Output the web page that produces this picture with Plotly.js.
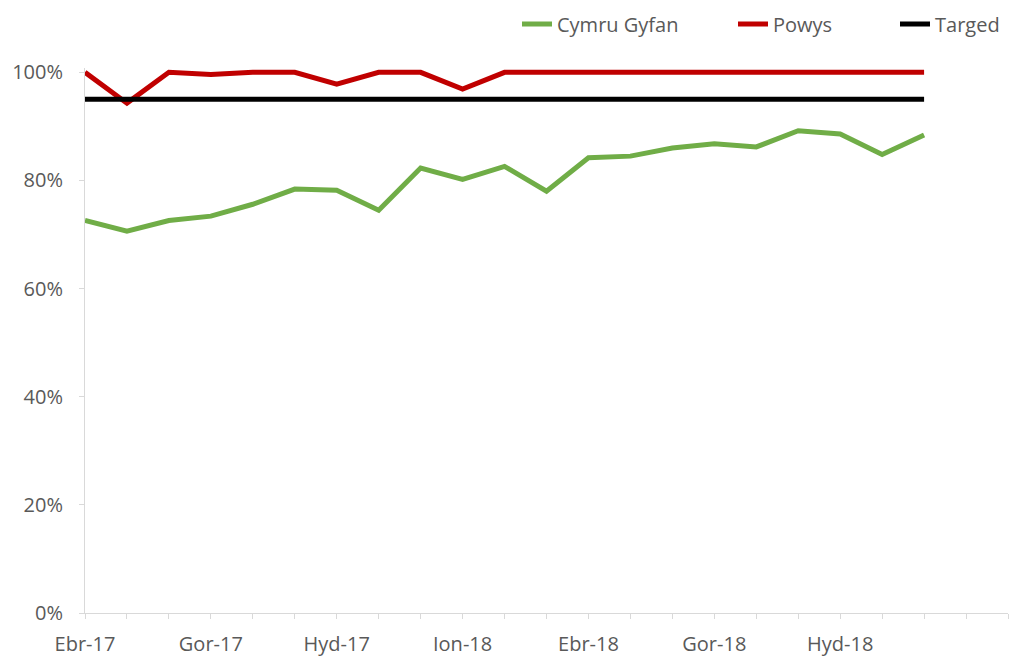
<!DOCTYPE html>
<html>
<head>
<meta charset="utf-8">
<script src="https://cdn.plot.ly/plotly-3.0.1.min.js"></script>
<style>html,body{margin:0;padding:0;background:#fff}#chart{width:1009px;height:657px}</style>
</head>
<body>
<div id="chart"></div>
<script>
// Monthly categories (Welsh month abbreviations), Apr 2017 – Dec 2018
const months = ['Ebr-17','Mai-17','Meh-17','Gor-17','Aws-17','Med-17','Hyd-17','Tach-17','Rhag-17',
  'Ion-18','Chwe-18','Maw-18','Ebr-18','Mai-18','Meh-18','Gor-18','Aws-18','Med-18','Hyd-18','Tach-18','Rhag-18'];
// Axis extends two further (empty) months
const axisMonths = 23;
const tickLabels = ['Ebr-17','Gor-17','Hyd-17','Ion-18','Ebr-18','Gor-18','Hyd-18'];
const tickIndex = [0, 3, 6, 9, 12, 15, 18];

const cymruGyfan = [0.726,0.706,0.726,0.734,0.756,0.784,0.782,0.745,0.823,0.802,0.826,0.780,
  0.842,0.845,0.860,0.868,0.862,0.892,0.886,0.848,0.884];
const powys = [1.00,0.943,1.00,0.996,1.00,1.00,0.978,1.00,1.00,0.969,1.00,1.00,
  1.00,1.00,1.00,1.00,1.00,1.00,1.00,1.00,1.00];
const targed = months.map(() => 0.95);

const xIdx = months.map((_, i) => i);
const font = {family: '"Open Sans", Lato, sans-serif', size: 20, color: '#595959'};

const traces = [
  {x: xIdx, y: cymruGyfan, name: 'Cymru Gyfan', type: 'scatter', mode: 'lines', legend: 'legend',
   line: {color: '#70AD47', width: 5}, text: months, hovertemplate: '%{text}: %{y:.1%}<extra></extra>'},
  {x: xIdx, y: powys, name: 'Powys', type: 'scatter', mode: 'lines', legend: 'legend2',
   line: {color: '#C00000', width: 5}, text: months, hovertemplate: '%{text}: %{y:.1%}<extra></extra>'},
  {x: xIdx, y: targed, name: 'Targed', type: 'scatter', mode: 'lines', legend: 'legend3',
   line: {color: '#000000', width: 5}, text: months, hovertemplate: '%{text}: %{y:.1%}<extra></extra>'}
];

function leg(px) {
  return {xref: 'container', yref: 'container', x: px / 1009, xanchor: 'left',
          y: 1 - 24 / 657, yanchor: 'middle', orientation: 'h', font: font,
          bgcolor: 'rgba(0,0,0,0)', borderwidth: 0};
}

const layout = {
  width: 1009, height: 657,
  margin: {l: 85, r: 1, t: 68, b: 44},
  paper_bgcolor: '#ffffff', plot_bgcolor: '#ffffff',
  font: font,
  showlegend: true,
  legend: leg(517),
  legend2: leg(733),
  legend3: leg(895),
  xaxis: {
    range: [0, axisMonths - 1], showgrid: false, zeroline: false,
    showline: true, linecolor: '#d9d9d9', linewidth: 1,
    tickmode: 'array', tickvals: tickIndex, ticktext: tickLabels,
    ticks: 'outside', ticklen: 5, tickcolor: '#d9d9d9', tickfont: font,
    ticklabelstandoff: 8,
    minor: {tickmode: 'linear', tick0: 0, dtick: 1, ticks: 'outside', ticklen: 5, tickcolor: '#d9d9d9', showgrid: false}
  },
  yaxis: {
    range: [0, 1.008], showgrid: false, zeroline: false,
    showline: true, linecolor: '#d9d9d9', linewidth: 1,
    tickmode: 'array', tickvals: [0, 0.2, 0.4, 0.6, 0.8, 1.0], tickformat: '.0%',
    ticks: 'outside', ticklen: 5, tickcolor: '#d9d9d9', tickfont: font,
    ticklabelstandoff: 12
  }
};

Plotly.newPlot('chart', traces, layout, {displayModeBar: false, staticPlot: true});
</script>
</body>
</html>
